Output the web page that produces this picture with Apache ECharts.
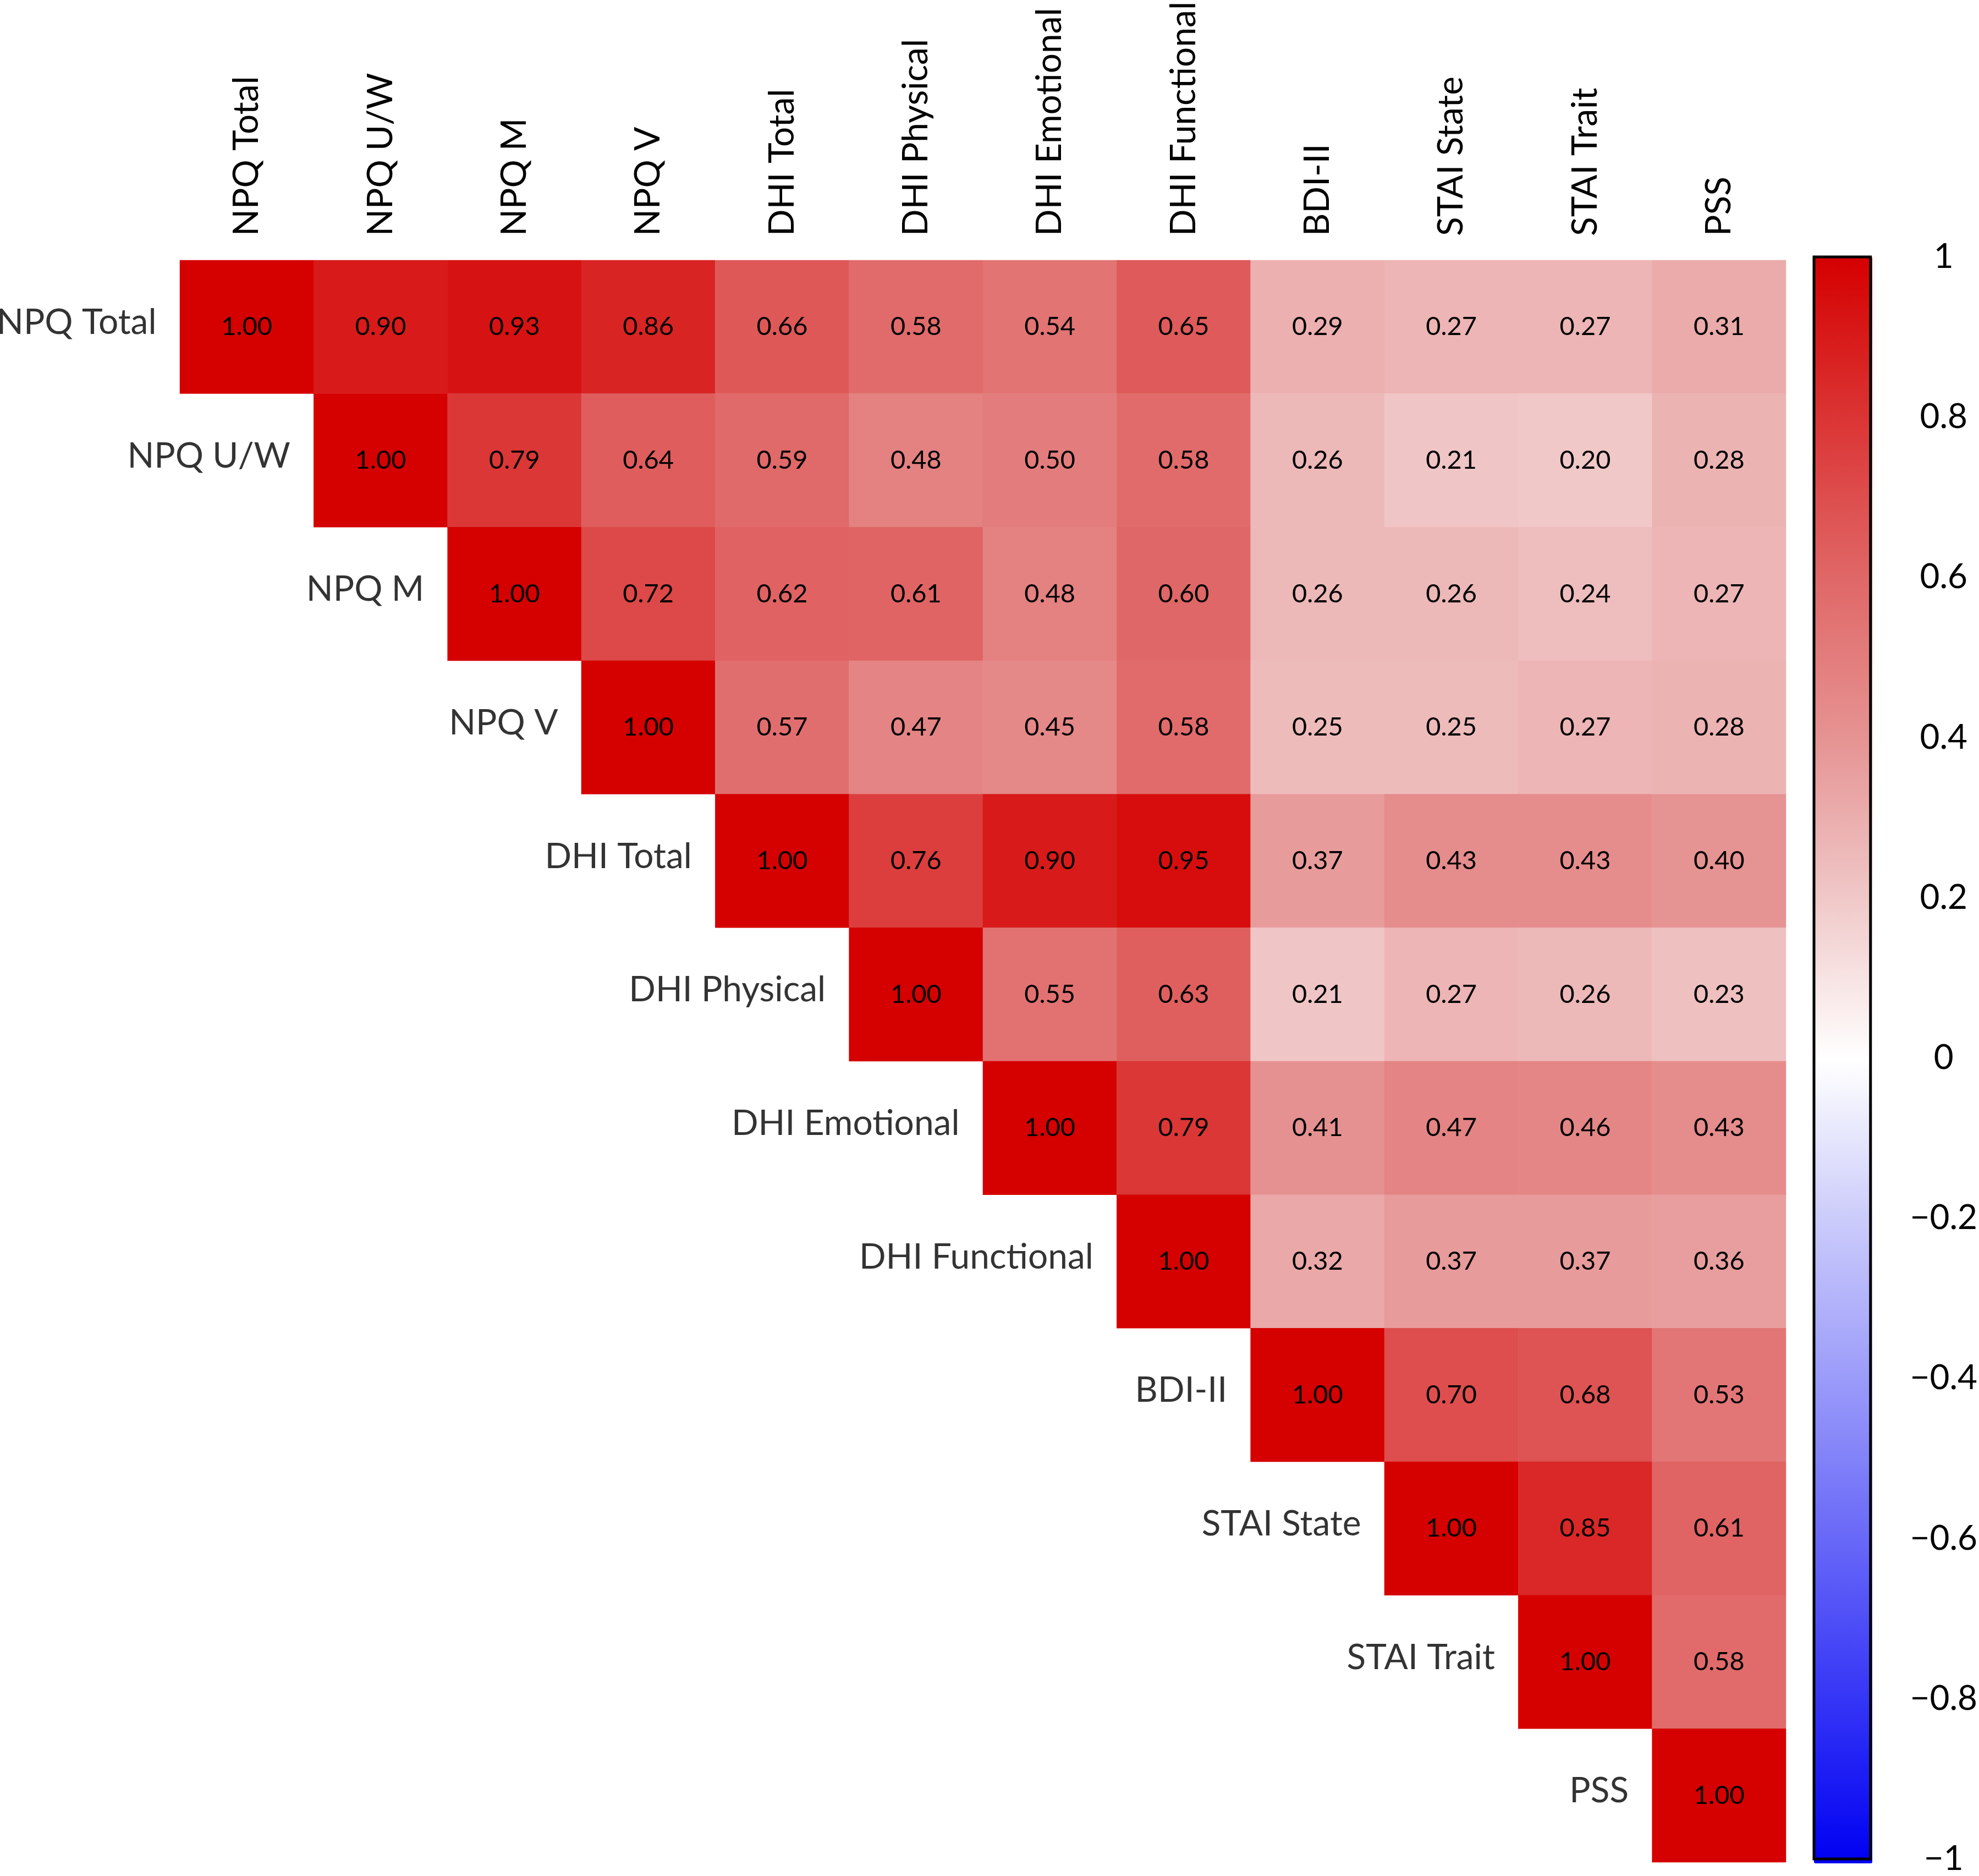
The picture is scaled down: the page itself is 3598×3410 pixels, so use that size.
<!DOCTYPE html>
<html>
<head>
<meta charset="utf-8">
<script src="https://cdn.jsdelivr.net/npm/echarts@6/dist/echarts.min.js"></script>
<style>
html,body{margin:0;padding:0;background:#fff;}
#chart{width:3598px;height:3410px;}
</style>
</head>
<body>
<div id="chart"></div>
<script>
// ---- data ----
var variables = ['NPQ Total','NPQ U/W','NPQ M','NPQ V','DHI Total','DHI Physical',
  'DHI Emotional','DHI Functional','BDI-II','STAI State','STAI Trait','PSS'];
// upper-triangle rows (starting at the diagonal)
var rowNPQTotal      = [1.00,0.90,0.93,0.86,0.66,0.58,0.54,0.65,0.29,0.27,0.27,0.31];
var rowNPQUW         = [1.00,0.79,0.64,0.59,0.48,0.50,0.58,0.26,0.21,0.20,0.28];
var rowNPQM          = [1.00,0.72,0.62,0.61,0.48,0.60,0.26,0.26,0.24,0.27];
var rowNPQV          = [1.00,0.57,0.47,0.45,0.58,0.25,0.25,0.27,0.28];
var rowDHITotal      = [1.00,0.76,0.90,0.95,0.37,0.43,0.43,0.40];
var rowDHIPhysical   = [1.00,0.55,0.63,0.21,0.27,0.26,0.23];
var rowDHIEmotional  = [1.00,0.79,0.41,0.47,0.46,0.43];
var rowDHIFunctional = [1.00,0.32,0.37,0.37,0.36];
var rowBDI           = [1.00,0.70,0.68,0.53];
var rowSTAIState     = [1.00,0.85,0.61];
var rowSTAITrait     = [1.00,0.58];
var rowPSS           = [1.00];
var colorbarTicks = [-1,-0.8,-0.6,-0.4,-0.2,0,0.2,0.4,0.6,0.8,1];
var paletteStops = ['#0000F2','#3434F6','#6767F8','#9A9AFA','#CBCBFB','#FFFFFF',
  '#F0C8C8','#E69393','#E06767','#DB3434','#D50000'];

var rows = [rowNPQTotal,rowNPQUW,rowNPQM,rowNPQV,rowDHITotal,rowDHIPhysical,
  rowDHIEmotional,rowDHIFunctional,rowBDI,rowSTAIState,rowSTAITrait,rowPSS];

var heatData = [];
rows.forEach(function(r, i){
  r.forEach(function(v, k){ heatData.push([i + k, i, v]); });
});
var labelData = variables.map(function(n, i){ return [i, i, n]; });

var FONT = 'Lato';
var N = variables.length;
var gridLeft = 327, gridTop = 465, gridSize = 2920;
var cell = gridSize / N;

var chart = echarts.init(document.getElementById('chart'), null, {renderer:'canvas'});
chart.setOption({
  backgroundColor:'#ffffff',
  animation:false,
  textStyle:{fontFamily:FONT},
  grid:[
    {left:gridLeft, top:gridTop, width:gridSize, height:gridSize},
    {left:3298, top:467, width:106, height:2920, show:true, z:10,
     backgroundColor:'transparent', borderColor:'#000', borderWidth:5}
  ],
  xAxis:[
    {type:'category', gridIndex:0, data:variables, position:'top',
     axisLine:{show:false}, axisTick:{show:false}, splitLine:{show:false},
     axisLabel:{interval:0, rotate:-90, margin:44, fontSize:64, color:'#000', fontFamily:FONT}},
    {type:'value', gridIndex:1, show:false, min:0, max:1}
  ],
  yAxis:[
    {type:'category', gridIndex:0, data:variables, inverse:true,
     axisLine:{show:false}, axisTick:{show:false}, axisLabel:{show:false}, splitLine:{show:false}},
    {type:'value', gridIndex:1, position:'right', min:-1, max:1, interval:0.2,
     axisLine:{show:false}, splitLine:{show:false},
     axisTick:{show:true, length:23, lineStyle:{color:'#000', width:5}},
     axisLabel:{margin:133, align:'center', fontSize:62, color:'#000', fontFamily:FONT,
       formatter:function(v){
         var s = String(Math.round(v*10)/10);
         return s.replace('-', '\u2212');
       }}}
  ],
  visualMap:{
    type:'continuous', min:-1, max:1, seriesIndex:0, calculable:false,
    orient:'vertical', left:3298, top:467, itemWidth:106, itemHeight:2920,
    padding:0, inRange:{color:paletteStops}, hoverLink:false
  },
  series:[
    {type:'heatmap', xAxisIndex:0, yAxisIndex:0, data:heatData,
     label:{show:true, fontSize:47, color:'#000', fontFamily:FONT,
       formatter:function(p){ return p.value[2].toFixed(2); }},
     itemStyle:{borderWidth:0},
     emphasis:{disabled:true}},
    {type:'scatter', xAxisIndex:0, yAxisIndex:0, data:labelData,
     symbolSize:1, itemStyle:{color:'rgba(0,0,0,0)'}, silent:true,
     label:{show:true, position:'left', distance: cell/2 + 42, offset:[0,-8],
       fontSize:64, color:'#000', fontFamily:FONT,
       formatter:function(p){ return p.value[2]; }}}
  ]
});
</script>
</body>
</html>
